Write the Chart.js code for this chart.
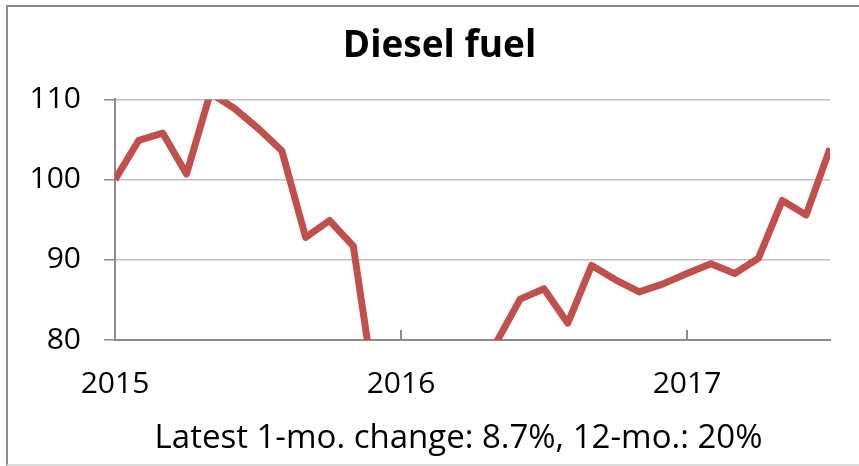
<!DOCTYPE html>
<html>
<head>
<meta charset="utf-8">
<title>Diesel fuel</title>
<script src="https://cdn.jsdelivr.net/npm/chart.js@4.4.1/dist/chart.umd.min.js"></script>
<style>
  html, body { margin: 0; padding: 0; background: #fff; overflow: hidden; }
  #frame {
    position: absolute; left: 6px; top: 5px; width: 900px; height: 457px;
    border: 2px solid #8c8c8c; border-bottom-color: #dcdcdc; border-right: none;
  }
  #graph { position: absolute; left: 0; top: 0; }
</style>
</head>
<body>
<div id="frame"></div>
<canvas id="graph" width="859" height="466"></canvas>
<script>
  // Monthly data, Jan 2015 - Jul 2017 (index, Jan 2015 = 100)
  const months = [
    'Jan 2015', 'Feb 2015', 'Mar 2015', 'Apr 2015', 'May 2015', 'Jun 2015',
    'Jul 2015', 'Aug 2015', 'Sep 2015', 'Oct 2015', 'Nov 2015', 'Dec 2015',
    'Jan 2016', 'Feb 2016', 'Mar 2016', 'Apr 2016', 'May 2016', 'Jun 2016',
    'Jul 2016', 'Aug 2016', 'Sep 2016', 'Oct 2016', 'Nov 2016', 'Dec 2016',
    'Jan 2017', 'Feb 2017', 'Mar 2017', 'Apr 2017', 'May 2017', 'Jun 2017',
    'Jul 2017'
  ];
  const dieselValues = [
    100.0, 104.9, 105.8, 100.7, 110.8, 108.9,
    106.4, 103.6, 92.8, 94.9, 91.7, 71.7,
    68.0, 66.0, 70.0, 76.0, 79.7, 85.1,
    86.4, 82.1, 89.3, 87.5, 86.0, 87.0,
    88.3, 89.5, 88.3, 90.2, 97.4, 95.6,
    103.9
  ];
  const yearLabels = ['2015', '2016', '2017'];
  const yTicks = [80, 90, 100, 110];
  const chartTitle = 'Diesel fuel';
  const caption = 'Latest 1-mo. change: 8.7%, 12-mo.: 20%';

  const fontFamily = '"Open Sans", sans-serif';
  const axisGray = '#8c8c8c';

  // small upward tick marks at each January (except the first one, which is the y axis)
  const yearMarks = {
    id: 'yearMarks',
    afterDatasetsDraw(chart) {
      const x = chart.scales.x;
      const ctx = chart.ctx;
      ctx.save();
      ctx.strokeStyle = axisGray;
      ctx.lineWidth = 2;
      months.forEach((m, i) => {
        if (i > 0 && m.startsWith('Jan')) {
          const px = Math.round(x.getPixelForValue(i));
          ctx.beginPath();
          ctx.moveTo(px, chart.chartArea.bottom - 10);
          ctx.lineTo(px, chart.chartArea.bottom);
          ctx.stroke();
        }
      });
      ctx.restore();
    }
  };

  // caption line under the x axis
  const captionText = {
    id: 'captionText',
    afterDraw(chart) {
      const ctx = chart.ctx;
      ctx.save();
      ctx.font = '33px ' + fontFamily;
      ctx.fillStyle = '#000';
      ctx.textAlign = 'center';
      ctx.textBaseline = 'alphabetic';
      ctx.fillText(caption, 458.5, 448);
      ctx.restore();
    }
  };

  const ctx = document.getElementById('graph').getContext('2d');
  new Chart(ctx, {
    type: 'line',
    data: {
      labels: months,
      datasets: [{
        label: chartTitle,
        data: dieselValues,
        borderColor: '#C0504D',
        borderWidth: 7,
        borderJoinStyle: 'round',
        pointRadius: 0,
        tension: 0,
        clip: 0
      }]
    },
    options: {
      responsive: false,
      animation: false,
      layout: { padding: { left: 20, right: 0, top: 6, bottom: 0 } },
      plugins: {
        legend: { display: false },
        tooltip: { enabled: false },
        title: {
          display: true,
          text: chartTitle,
          color: '#000',
          font: { family: fontFamily, size: 37, weight: 'bold' },
          padding: { top: 18, bottom: 31 }
        }
      },
      scales: {
        x: {
          type: 'category',
          offset: false,
          grid: { display: false, drawTicks: false, tickLength: 0 },
          border: { display: true, color: axisGray, width: 2 },
          ticks: {
            autoSkip: false,
            maxRotation: 0,
            minRotation: 0,
            padding: 26,
            color: '#000',
            font: { family: fontFamily, size: 30 },
            callback: function(value, index) {
              const m = months[index];
              if (!m.startsWith('Jan')) return '';
              const year = m.slice(4);
              return yearLabels.includes(year) ? year : '';
            }
          },
          afterFit: function(scale) { scale.height = 126; }
        },
        y: {
          min: 80,
          max: 110,
          grid: {
            color: (c) => (c.tick && c.tick.value === 80) ? 'rgba(0,0,0,0)' : '#c0c0c0',
            tickColor: axisGray,
            tickLength: 11,
            lineWidth: 1.5
          },
          border: { display: true, color: axisGray, width: 2 },
          afterBuildTicks: function(scale) {
            scale.ticks = yTicks.map(v => ({ value: v }));
          },
          ticks: {
            padding: 23,
            color: '#000',
            font: { family: fontFamily, size: 30 }
          },
          afterFit: function(scale) { scale.width = 95; }
        },
        // empty right-hand spacer so the plot ends short of the frame
        spacer: {
          position: 'right',
          display: true,
          grid: { display: false },
          border: { display: false },
          ticks: { display: false },
          afterFit: function(scale) { scale.width = 29; }
        }
      }
    },
    plugins: [yearMarks, captionText]
  });
</script>
</body>
</html>
